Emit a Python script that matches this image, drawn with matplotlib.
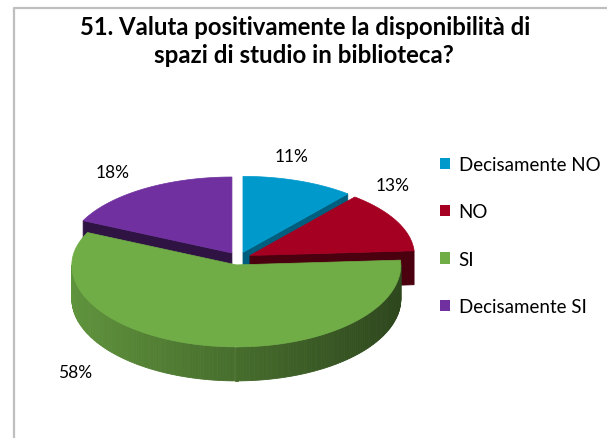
import matplotlib.pyplot as plt
import numpy as np
from matplotlib.colors import to_rgb
from matplotlib.patches import Patch, Polygon

categories = ["Decisamente NO", "NO", "SI", "Decisamente SI"]
percent = [11, 13, 58, 18]
colors = ["#0099cc", "#a50021", "#70ad47", "#7030a0"]
cut_shade = [0.62, 0.45, 0.5, 0.42]

TITLE_LINES = ["51. Valuta positivamente la disponibilità di",
               "spazi di studio in biblioteca?"]

# layout in pixels (axes spans the whole figure, y grows downwards)
W, H = 607, 439
CX, CY = 238.7, 259.5
RX, RY_BACK, RY_FRONT = 164.5, 76, 82
DEPTH = 34
EXPLODE_X, EXPLODE_Y = 12.6, 6.5
LABEL_XY = [(292, 157), (393, 186), (75, 373), (113, 173)]
FONT = "Lato"


def rim(theta_deg, cx, cy):
    t = np.radians(theta_deg)
    ry = np.where(np.cos(t) >= 0, RY_BACK, RY_FRONT)
    return cx + RX * np.sin(t), cy - ry * np.cos(t)


def main():
    fig = plt.figure(figsize=(W / 100, H / 100), dpi=100)
    ax = fig.add_axes([0, 0, 1, 1])
    ax.set_xlim(0, W)
    ax.set_ylim(H, 0)
    ax.axis("off")

    # chart frame (top and left edges visible)
    ax.plot([13.5, 13.5, W + 5], [H + 5, 8.5, 8.5], color="#bfbfbf", lw=1.6, clip_on=False)

    bounds = np.concatenate([[0], np.cumsum(percent)]) * 3.6
    slices = []
    for i in range(len(percent)):
        a0, a1 = bounds[i], bounds[i + 1]
        mid = np.radians((a0 + a1) / 2)
        cx = CX + EXPLODE_X * np.sin(mid)
        cy = CY - EXPLODE_Y * np.cos(mid)
        slices.append((cy, i, a0, a1, cx))

    for cy, i, a0, a1, cx in sorted(slices):
        base = np.array(to_rgb(colors[i]))
        # radial cut faces facing the viewer
        for ang, normal in ((a0, a0 - 90), (a1, a1 + 90)):
            if np.cos(np.radians(normal)) < 0:
                ex, ey = rim(ang, cx, cy)
                c = base * cut_shade[i]
                ax.add_patch(Polygon([(cx, cy), (ex, ey), (ex, ey + DEPTH), (cx, cy + DEPTH)],
                                     closed=True, fc=c, ec=c, lw=0.5))
        # outer wall with shading
        lo, hi = max(a0, 90), min(a1, 270)
        if hi > lo:
            steps = np.linspace(lo, hi, int(hi - lo) + 2)
            for t0, t1 in zip(steps[:-1], steps[1:]):
                x0, y0 = rim(t0, cx, cy)
                x1, y1 = rim(t1, cx, cy)
                c = base * (0.63 - 0.22 * np.sin(np.radians((t0 + t1) / 2)))
                ax.add_patch(Polygon([(x0, y0), (x1, y1), (x1, y1 + DEPTH), (x0, y0 + DEPTH)],
                                     closed=True, fc=c, ec=c, lw=0.6))
        # top face
        ts = np.linspace(a0, a1, 200)
        xs, ys = rim(ts, cx, cy)
        ax.add_patch(Polygon(np.column_stack([np.r_[cx, xs], np.r_[cy, ys]]),
                             closed=True, fc=base, ec=base, lw=0.5))

    for (x, y), p in zip(LABEL_XY, percent):
        ax.text(x, y, f"{p}%", ha="center", va="center", fontsize=12.5, family=FONT)

    ax.text(305, 35, TITLE_LINES[0], ha="center", va="baseline",
            fontsize=17.2, fontweight="bold", family=FONT)
    ax.text(304, 63, TITLE_LINES[1], ha="center", va="baseline",
            fontsize=17.4, fontweight="bold", family=FONT)

    handles = [Patch(fc=c, ec="none") for c in colors]
    ax.legend(handles, categories, loc="upper left", bbox_to_anchor=(440, 157),
              bbox_transform=ax.transData, frameon=False,
              prop={"family": FONT, "size": 13.5}, handlelength=0.55, handleheight=0.55,
              handletextpad=0.45, labelspacing=1.62, borderpad=0, borderaxespad=0)

    fig.savefig("out.png", dpi=100)
    plt.close(fig)


if __name__ == "__main__":
    main()
